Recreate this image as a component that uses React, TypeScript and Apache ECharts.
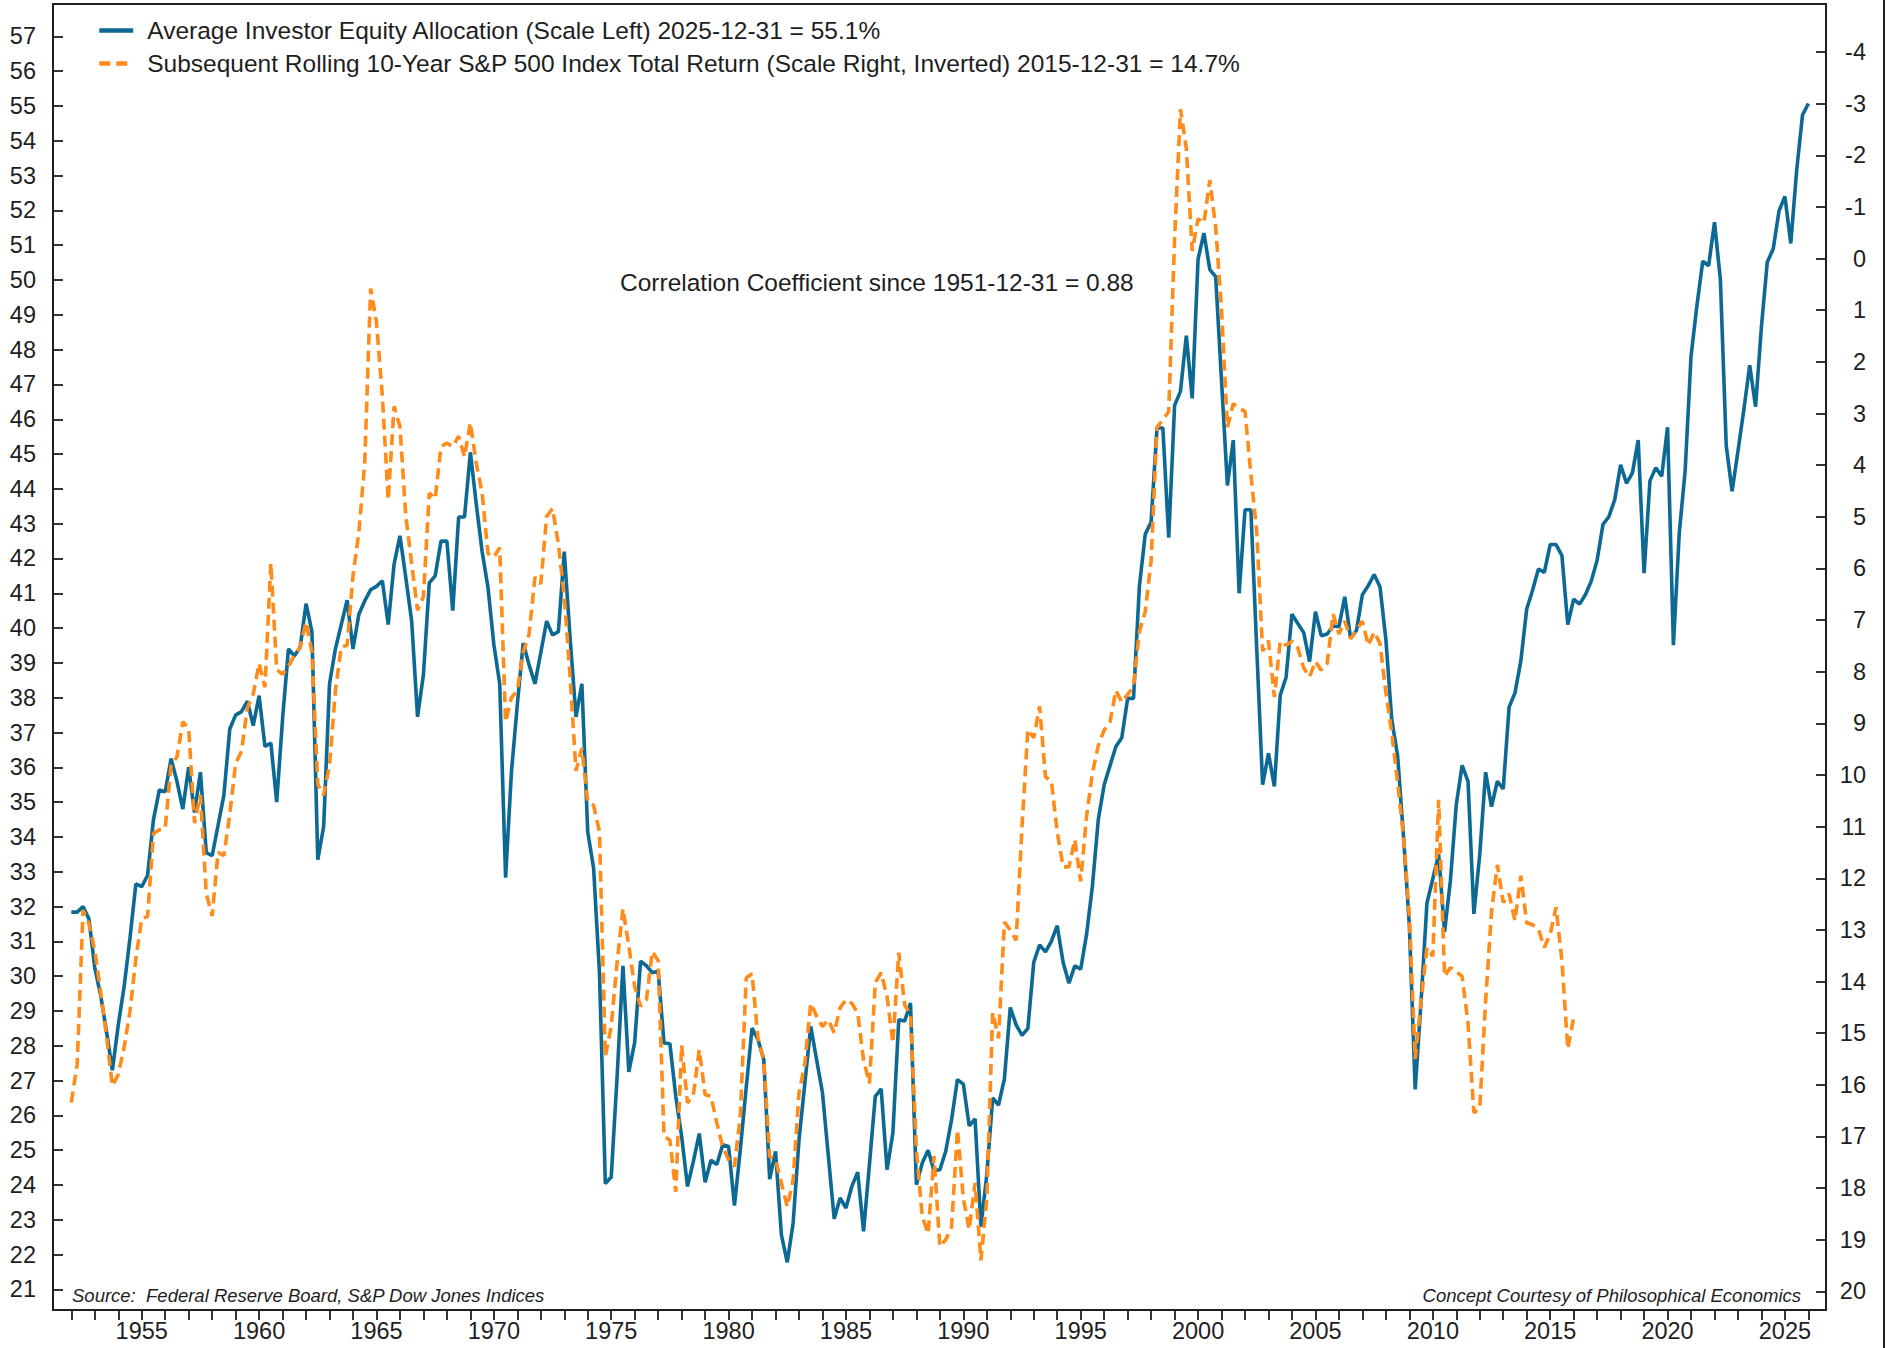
import React, { useEffect, useRef } from "react";
import * as echarts from "echarts";

// ---------------- DATA ----------------
// Quarterly observations; first observation is 1951-12-31 (plotted as decimal year 1952.0)
const FIRST_QUARTER_END = 1952.0;
const QUARTER_STEP = 0.25;

// Average Investor Equity Allocation (%), 1951-12-31 .. 2025-12-31
const allocationValues = [
  31.84, 31.84, 32.0, 31.65, 30.24, 29.45, 28.4, 27.3, 28.6, 29.7,
  31.1, 32.65, 32.57, 32.9, 34.5, 35.35, 35.3, 36.25, 35.6, 34.8,
  36.0, 34.7, 35.86, 33.55, 33.46, 34.33, 35.2, 37.1, 37.5, 37.6,
  37.9, 37.2, 38.06, 36.6, 36.7, 35.0, 37.4, 39.4, 39.2, 39.45,
  40.7, 39.9, 33.35, 34.3, 38.4, 39.4, 40.1, 40.8, 39.4,
  40.4, 40.78, 41.1, 41.2, 41.36, 40.1, 41.84, 42.65, 41.45, 40.2,
  37.45, 38.66, 41.3, 41.5, 42.5, 42.5, 40.5, 43.19, 43.19, 45.05,
  43.57, 42.2, 41.17, 39.53, 38.4, 32.83, 35.87, 37.8, 39.57, 38.95,
  38.4, 39.3, 40.2, 39.8, 39.9, 42.2, 39.7, 37.45, 38.4, 34.14,
  33.1, 30.1, 24.04, 24.23, 27.1, 30.3, 27.25, 28.1, 30.43, 30.3,
  30.1,
  30.14, 28.08, 28.06, 26.55, 25.4, 23.96, 24.68, 25.48, 24.08, 24.71,
  24.59, 25.16, 25.11, 23.41, 25.02, 26.79, 28.51, 28.18, 27.6, 24.17,
  24.97, 22.57, 21.78, 22.91, 25.3, 26.93, 28.56, 27.6, 26.65, 24.83,
  23.03, 23.63, 23.34, 23.96, 24.37, 22.67, 24.59, 26.55, 26.76, 24.44,
  25.5, 28.75, 28.71, 29.23, 24.01, 24.63, 25.0, 24.42, 24.44, 24.97,
  25.88, 27.03,
  26.9, 25.7, 25.9, 22.8, 24.3, 26.5, 26.3, 27.05, 29.1, 28.6,
  28.3, 28.5, 30.4, 30.9, 30.7, 31.0, 31.45, 30.4, 29.8, 30.3,
  30.2, 31.2, 32.6, 34.5, 35.5, 36.05, 36.6, 36.85, 37.98, 37.98,
  41.2, 42.7, 43.05, 45.75, 45.75, 42.6, 46.4, 46.8, 48.4, 46.6,
  50.6, 51.35, 50.3, 50.1, 47.1, 44.1, 45.4, 41.0, 43.4, 43.4,
  39.4,
  35.5, 36.4, 35.45, 38.07, 38.59, 40.4, 40.13, 39.87, 39.04, 40.47,
  39.78, 39.83, 40.06, 40.04, 40.9, 39.7, 39.94, 40.96, 41.22, 41.54,
  41.19, 39.68, 37.37, 36.34, 34.03, 31.47, 26.75, 29.28, 32.1, 32.8,
  33.5, 31.27, 32.75, 34.93, 36.06, 35.6, 31.79, 33.5, 35.86, 34.87,
  35.6, 35.38, 37.73, 38.14, 39.06, 40.55, 41.09, 41.7,
  41.6, 42.4, 42.4, 42.08, 40.1, 40.83, 40.69, 40.96, 41.35, 41.95,
  42.98, 43.2, 43.69, 44.69, 44.16, 44.45, 45.4, 41.58, 44.23, 44.61,
  44.36, 45.77, 39.51, 42.74, 44.52, 47.81, 49.26, 50.54, 50.41, 51.66,
  50.02, 45.24, 43.93, 45.09, 46.27, 47.55, 46.36, 48.67, 50.52, 50.89,
  51.99, 52.4, 51.05, 53.15, 54.74, 55.07,
];

// Subsequent rolling 10-year S&P 500 total return (%), 1951-12-31 .. 2015-12-31
const forwardReturnValues = [
  16.34, 15.6, 12.62, 12.88, 13.4, 14.2, 15.06, 16.02, 15.8, 15.28,
  14.57, 13.56, 12.78, 12.74, 11.13, 11.06, 11.03, 9.81, 9.65, 8.97,
  9.1, 10.93, 10.39, 12.3, 12.73, 11.5, 11.56, 10.76, 9.78, 9.54,
  8.7, 8.43, 7.84, 8.3, 5.9, 7.96, 8.05, 7.89, 7.69, 7.52,
  7.04, 7.62, 10.18, 10.39, 9.81, 8.37, 7.52, 7.49, 6.14,
  5.3, 3.96, 0.58, 1.23, 2.66, 4.67, 2.86, 3.25, 4.99, 5.91,
  6.81, 6.55, 4.54, 4.65, 3.64, 3.57, 3.64, 3.44, 3.84, 3.18,
  3.96, 4.54, 5.71, 5.78, 5.6, 8.97, 8.5, 8.36, 7.62, 7.28,
  6.17, 6.3, 4.99, 4.84, 5.53, 6.55, 8.11, 9.92, 9.48, 10.52,
  10.59, 11.1, 15.45, 14.87, 13.63, 12.59, 13.31, 14.1, 14.48, 14.35,
  13.42,
  13.59, 17.0, 17.07, 18.07, 15.23, 16.35, 16.19, 15.32, 16.19, 16.22,
  16.74, 17.2, 17.45, 17.58, 16.6, 13.93, 13.85, 15.09, 15.52, 17.38,
  17.45, 17.9, 18.36, 17.84, 16.16, 15.58, 14.42, 14.67, 14.87, 14.74,
  14.99, 14.51, 14.35, 14.42, 14.61, 15.52, 15.97, 14.02, 13.83, 14.29,
  15.19, 13.44, 14.45, 14.64, 17.26, 18.55, 18.88, 17.38, 19.13, 19.0,
  18.75, 16.87,
  18.2, 18.8, 17.9, 19.4, 18.2, 14.6, 15.1, 12.85, 13.0, 13.2,
  11.0, 9.12, 9.28, 8.67, 10.04, 10.11, 11.1, 11.78, 11.78, 11.25,
  12.06, 10.8, 9.96, 9.43, 9.13, 8.97, 8.36, 8.59, 8.44, 8.29,
  7.22, 6.84, 5.85, 3.27, 3.12, 2.96, -0.38, -2.89, -2.13, -0.15,
  -0.77, -0.69, -1.52, -0.61, 0.99, 3.27, 2.81, 2.9, 2.96, 4.18,
  5.3,
  7.6, 7.4, 8.49, 7.41, 7.49, 7.41, 7.54, 7.93, 8.1, 7.8,
  7.97, 7.84, 6.88, 7.27, 7.02, 7.36, 7.19, 7.02, 7.49, 7.23,
  7.45, 8.4, 9.18, 10.14, 11.18, 12.73, 15.5, 14.38, 13.34, 13.51,
  10.48, 13.9, 13.73, 13.81, 13.9, 14.81, 16.54, 16.45, 14.38, 12.65,
  11.74, 12.47, 12.3, 12.82, 11.95, 12.86, 12.9, 12.99, 13.34, 13.08,
  12.56, 13.6, 15.3, 14.7,
];

const xLabelYears = [1955, 1960, 1965, 1970, 1975, 1980, 1985, 1990, 1995, 2000, 2005, 2010, 2015, 2020, 2025];
const xTickYears = Array.from({ length: 75 }, (_, i) => 1952 + i);
const leftTicks = Array.from({ length: 37 }, (_, i) => 21 + i);
const rightTicks = Array.from({ length: 25 }, (_, i) => -4 + i);

const allocationName = "Average Investor Equity Allocation (Scale Left) 2025-12-31 = 55.1%";
const returnName = "Subsequent Rolling 10-Year S&P 500 Index Total Return (Scale Right, Inverted) 2015-12-31 = 14.7%";
const correlationText = "Correlation Coefficient since 1951-12-31 = 0.88";
const sourceText = "Source:  Federal Reserve Board, S&P Dow Jones Indices";
const conceptText = "Concept Courtesy of Philosophical Economics";

// ---------------- STYLE ----------------
const W = 1889;
const H = 1348;
const BLUE = "#0c6994";
const ORANGE = "#ff8c1a";
const INK = "#1e1e1e";
const FONT = "'Liberation Sans', Arial, sans-serif";
const FS_TEXT = 24.5;
const FS_TICK = 23.5;
const FS_NOTE = 18.5;

const toPairs = (vals: number[]) => vals.map((v, i) => [FIRST_QUARTER_END + i * QUARTER_STEP, v]);

export default function App() {
  const ref = useRef<HTMLDivElement>(null);

  useEffect(() => {
    document.body.style.margin = "0";
    if (!ref.current) return;
    const chart = echarts.init(ref.current, null, { renderer: "svg" });
    const intFmt = (v: number) => String(Math.round(v));
    const tickLine = { color: INK, width: 1.8 };
    const axisLine = { show: true, onZero: false, lineStyle: { color: INK, width: 2 } };

    chart.setOption({
      animation: false,
      backgroundColor: "#ffffff",
      grid: {
        left: 53,
        right: 63,
        top: 4,
        bottom: 38,
        show: true,
        borderColor: INK,
        borderWidth: 2,
        backgroundColor: "transparent",
      },
      legend: {
        orient: "vertical",
        left: 97,
        top: 18,
        padding: 0,
        itemWidth: 34,
        itemHeight: 14,
        itemGap: 8,
        selectedMode: false,
        itemStyle: { opacity: 0 },
        lineStyle: { width: 4.5 },
        textStyle: { fontFamily: FONT, fontSize: FS_TEXT, color: INK, padding: [0, 0, 0, 9] },
        data: [allocationName, returnName],
      },
      xAxis: {
        type: "value",
        min: 1951.22,
        max: 2026.75,
        axisLine: axisLine,
        splitLine: { show: false },
        axisTick: { show: true, inside: false, length: 10, lineStyle: tickLine, customValues: xTickYears },
        axisLabel: {
          customValues: xLabelYears,
          formatter: intFmt,
          fontFamily: FONT,
          fontSize: FS_TICK,
          color: INK,
          margin: 9,
        },
      },
      yAxis: [
        {
          type: "value",
          position: "left",
          min: 20.41,
          max: 57.93,
          axisLine: axisLine,
          splitLine: { show: false },
          axisTick: { show: true, inside: true, length: 10, lineStyle: tickLine, customValues: leftTicks },
          axisLabel: {
            customValues: leftTicks,
            formatter: intFmt,
            fontFamily: FONT,
            fontSize: FS_TICK,
            color: INK,
            margin: 17,
          },
        },
        {
          type: "value",
          position: "right",
          inverse: true,
          min: -4.93,
          max: 20.36,
          axisLine: axisLine,
          splitLine: { show: false },
          axisTick: { show: true, inside: true, length: 10, lineStyle: tickLine, customValues: rightTicks },
          axisLabel: {
            customValues: rightTicks,
            formatter: intFmt,
            fontFamily: FONT,
            fontSize: FS_TICK,
            color: INK,
            align: "right",
            margin: 40,
          },
        },
      ],
      series: [
        {
          name: allocationName,
          type: "line",
          yAxisIndex: 0,
          data: toPairs(allocationValues),
          symbol: "none",
          showSymbol: false,
          lineStyle: { color: BLUE, width: 3.6 },
          itemStyle: { color: BLUE },
          z: 2,
        },
        {
          name: returnName,
          type: "line",
          yAxisIndex: 1,
          data: toPairs(forwardReturnValues),
          symbol: "none",
          showSymbol: false,
          lineStyle: { color: ORANGE, width: 3.6, type: [11, 6] },
          itemStyle: { color: ORANGE },
          z: 3,
        },
      ],
      graphic: [
        {
          type: "line",
          shape: { x1: 1884, y1: 0, x2: 1884, y2: H },
          style: { stroke: INK, lineWidth: 2 },
        },
        {
          type: "text",
          x: 620,
          y: 282,
          style: {
            text: correlationText,
            fontFamily: FONT,
            fontSize: FS_TEXT,
            fill: INK,
            align: "left",
            verticalAlign: "middle",
          },
        },
        {
          type: "text",
          x: 72,
          y: 1295,
          style: {
            text: sourceText,
            fontFamily: FONT,
            fontStyle: "italic",
            fontSize: FS_NOTE,
            fill: INK,
            align: "left",
            verticalAlign: "middle",
          },
        },
        {
          type: "text",
          x: 1801,
          y: 1295,
          style: {
            text: conceptText,
            fontFamily: FONT,
            fontStyle: "italic",
            fontSize: FS_NOTE,
            fill: INK,
            align: "right",
            verticalAlign: "middle",
          },
        },
      ],
    });

    return () => chart.dispose();
  }, []);

  return <div ref={ref} style={{ width: W, height: H }} />;
}
